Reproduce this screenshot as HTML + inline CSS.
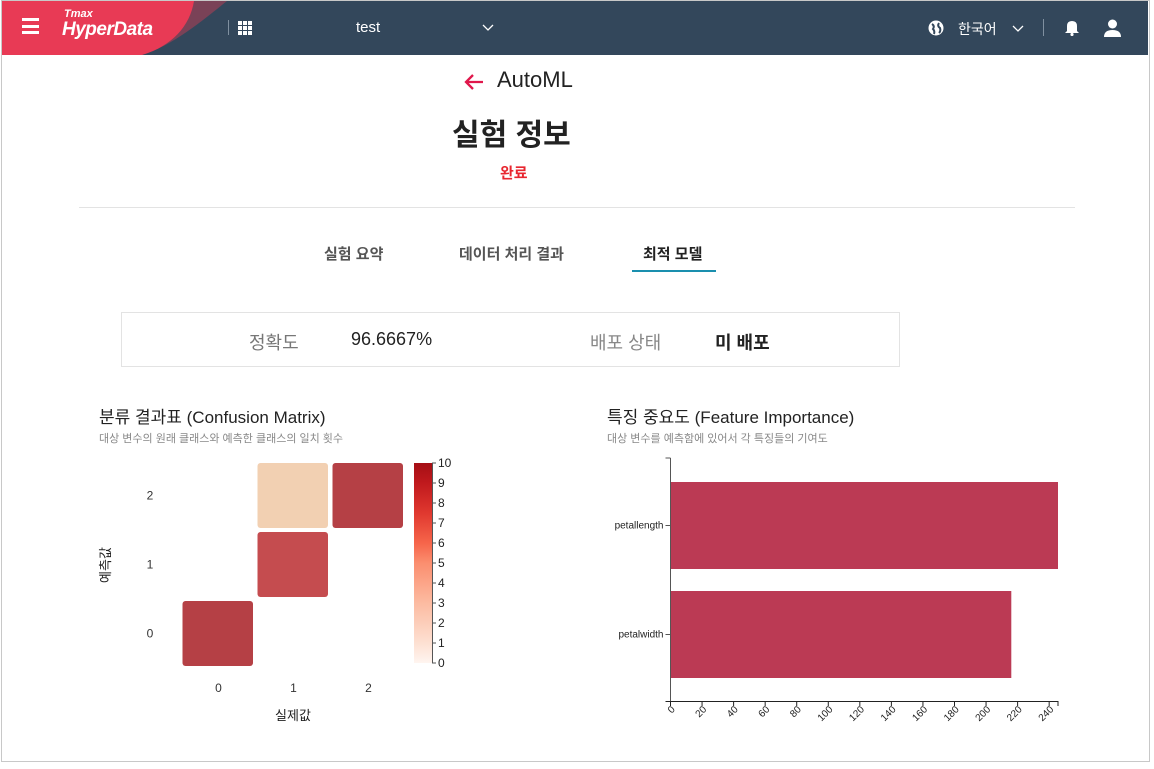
<!DOCTYPE html>
<html><head><meta charset="utf-8">
<style>
*{box-sizing:border-box;margin:0;padding:0}
body{width:1154px;height:769px;background:#fff;font-family:"Liberation Sans","Noto Sans CJK KR",sans-serif;position:relative;overflow:hidden}
.frame{position:absolute;left:1px;top:0;width:1149px;height:762px;border:1px solid #c8c8c8}
.abs{position:absolute}
.hdr{position:absolute;left:2px;top:1px;width:1146px;height:54px;background:#33475b;overflow:hidden}
.k{font-family:"Liberation Sans","Noto Sans CJK KR",sans-serif}
</style></head><body>
<div class="frame"></div>
<div class="hdr">
 <svg class="abs" style="left:0;top:0" width="240" height="54">
  <path d="M0 0 H225 C200 20 170 45 140 54 H0 Z" fill="#7a4257"/>
  <path d="M0 0 H192 C188 25 170 45 140 54 H0 Z" fill="#e83a55"/>
 </svg>
 <div class="abs" style="left:20px;top:17px;width:17px;height:16px">
  <div style="height:3px;background:#fff;margin-bottom:3.5px"></div><div style="height:3px;background:#fff;margin-bottom:3.5px"></div><div style="height:3px;background:#fff"></div></div>
 <div class="abs" style="left:60px;top:8px;color:#fff;font-weight:bold;font-style:italic;line-height:1"><div style="font-size:11px;margin-left:2px">Tmax</div><div style="font-size:19px;letter-spacing:-0.5px">HyperData</div></div>
 <div class="abs" style="left:226px;top:19px;width:1px;height:15px;background:#8090a0"></div>
 <div class="abs" style="left:236px;top:20px;width:14px;height:14px;display:grid;grid-template-columns:repeat(3,4px);gap:1px"><i style="background:#fff;height:4px"></i><i style="background:#fff;height:4px"></i><i style="background:#fff;height:4px"></i><i style="background:#fff;height:4px"></i><i style="background:#fff;height:4px"></i><i style="background:#fff;height:4px"></i><i style="background:#fff;height:4px"></i><i style="background:#fff;height:4px"></i><i style="background:#fff;height:4px"></i></div>
 <div class="abs" style="left:354px;top:18px;color:#fff;font-size:15px">test</div>
 <svg class="abs" style="left:480px;top:23px" width="12" height="8"><path d="M1 1 L6 6 L11 1" stroke="#fff" fill="none" stroke-width="1.3"/></svg>
 <svg class="abs" style="left:926px;top:19px" width="16" height="16"><circle cx="8" cy="8" r="7.5" fill="#fff"/><path d="M4 4 Q7 6 5 9 Q7 11 6 14 M11 3 Q9 6 12 8 Q13 11 11 13" stroke="#33475b" stroke-width="2" fill="none"/></svg>
 <div class="abs k" style="left:956px;top:18px;color:#fff;font-size:14px">한국어</div>
 <svg class="abs" style="left:1010px;top:24px" width="12" height="8"><path d="M1 1 L6 6 L11 1" stroke="#fff" fill="none" stroke-width="1.3"/></svg>
 <div class="abs" style="left:1041px;top:18px;width:1px;height:17px;background:#8090a0"></div>
 <svg class="abs" style="left:1062px;top:18px" width="16" height="17"><path d="M3 12 V7 Q3 2 8 2 Q13 2 13 7 V12 L15 14 H1 Z" fill="#fff"/><circle cx="8" cy="15.5" r="1.6" fill="#fff"/></svg>
 <svg class="abs" style="left:1101px;top:18px" width="19" height="18"><circle cx="9.5" cy="5" r="4.5" fill="#fff"/><path d="M1 18 Q1 11 9.5 11 Q18 11 18 18 Z" fill="#fff"/></svg>
</div>

<svg class="abs" style="left:463px;top:72px" width="22" height="20"><path d="M20 10 H3 M10 3 L3 10 L10 17" stroke="#e0184c" stroke-width="2.3" fill="none"/></svg>
<div class="abs" style="left:497px;top:67px;font-size:22px;color:#222">AutoML</div>
<div class="abs k" style="left:452px;top:110px;font-size:30px;font-weight:bold;color:#222">실험 정보</div>
<div class="abs k" style="left:500px;top:162px;font-size:15px;font-weight:bold;color:#e8262f">완료</div>
<div class="abs" style="left:79px;top:207px;width:996px;height:1px;background:#e3e3e3"></div>

<div class="abs k" style="left:324px;top:243px;font-size:15px;font-weight:bold;color:#555">실험 요약</div>
<div class="abs k" style="left:459px;top:243px;font-size:15px;font-weight:bold;color:#555">데이터 처리 결과</div>
<div class="abs k" style="left:643px;top:243px;font-size:15px;font-weight:bold;color:#222">최적 모델</div>
<div class="abs" style="left:632px;top:270px;width:84px;height:2px;background:#1a8fae"></div>

<div class="abs" style="left:121px;top:312px;width:779px;height:55px;border:1px solid #e3e3e3"></div>
<div class="abs k" style="left:249px;top:329px;font-size:18px;color:#777">정확도</div>
<div class="abs" style="left:351px;top:329px;font-size:18px;color:#222">96.6667%</div>
<div class="abs k" style="left:590px;top:329px;font-size:18px;color:#888">배포 상태</div>
<div class="abs k" style="left:715px;top:329px;font-size:18px;color:#222;font-weight:bold">미 배포</div>

<div class="abs k" style="left:99px;top:403px;font-size:17px;color:#222">분류 결과표 (Confusion Matrix)</div>
<div class="abs k" style="left:99px;top:430px;font-size:11px;color:#888">대상 변수의 원래 클래스와 예측한 클래스의 일치 횟수</div>
<div class="abs k" style="left:607px;top:403px;font-size:17px;color:#222">특징 중요도 (Feature Importance)</div>
<div class="abs k" style="left:607px;top:430px;font-size:11px;color:#888">대상 변수를 예측함에 있어서 각 특징들의 기여도</div>

<svg id="cm" class="abs" style="left:0;top:0" width="580" height="769">
 <defs><linearGradient id="cb" x1="0" y1="1" x2="0" y2="0">
  <stop offset="0" stop-color="#fff5f0"/><stop offset="0.1" stop-color="#fde0d2"/><stop offset="0.3" stop-color="#fcbba1"/><stop offset="0.5" stop-color="#fb8e6f"/><stop offset="0.6" stop-color="#f6654a"/><stop offset="0.75" stop-color="#e0382f"/><stop offset="0.9" stop-color="#c0191d"/><stop offset="1" stop-color="#a50f15"/></linearGradient></defs>
</svg>
<svg id="fi" class="abs" style="left:0;top:0" width="1154" height="769"></svg>

<script>
// Confusion matrix data
const cmLabels = ['0','1','2'];
const cmActual = [0, 1, 1, 2];
const cmPred   = [0, 1, 2, 2];
const cmValues = [10, 9, 1, 10];
const cbTicks = [0,1,2,3,4,5,6,7,8,9,10];
// Feature importance data
const fiFeatures = ['petallength','petalwidth'];
const fiValues = [245.6, 216];
const fiTicks = [0,20,40,60,80,100,120,140,160,180,200,220,240];

const NS='http://www.w3.org/2000/svg';
function mk(parent,tag,attrs,txt){const e=document.createElementNS(NS,tag);for(const k in attrs)e.setAttribute(k,attrs[k]);if(txt!==undefined)e.textContent=txt;parent.appendChild(e);return e;}

(function(){
 const svg=document.getElementById('cm');
 const x0=181, cw=75, yTop=461, ch=69, n=cmLabels.length;
 const xs=i=>x0+i*cw, ys=j=>yTop+(n-1-j)*ch;
 const stops=[[0,[255,255,255]],[1,[242,208,178]],[5,[232,110,90]],[9,[197,76,79]],[10,[181,64,69]]];
 function col(v){for(let i=1;i<stops.length;i++){if(v<=stops[i][0]){const a=stops[i-1],b=stops[i],t=(v-a[0])/(b[0]-a[0]);return 'rgb('+a[1].map((c,k)=>Math.round(c+(b[1][k]-c)*t)).join(',')+')';}}return 'rgb(181,64,69)';}
 cmValues.forEach((v,i)=>{
  const r=mk(svg,'rect',{x:xs(cmActual[i])+1.5,y:ys(cmPred[i])+2,width:cw-4.5,height:ch-4,rx:3,fill:col(v)});
  
  
 });
 cmLabels.forEach((l,i)=>{
  const t=mk(svg,'text',{x:xs(i)+cw/2,y:692,'font-size':12,'text-anchor':'middle',fill:'#333'},l);
  
  
  const u=mk(svg,'text',{x:150,y:ys(i)+ch/2+4,'font-size':12,'text-anchor':'middle',fill:'#333'},l);
  
  
 });
 const xt=mk(svg,'text',{x:293,y:720,'font-size':13,'text-anchor':'middle',fill:'#222'},'실제값');
 
 
 const yt=mk(svg,'text',{x:0,y:0,'font-size':13,'text-anchor':'middle',fill:'#222',transform:'translate(110,565) rotate(-90)'},'예측값');
 
 
 const cy0=663, cy1=463, cs=v=>cy0-(v/10)*(cy0-cy1);
 const cb=mk(svg,'rect',{x:414,y:cy1,width:18,height:cy0-cy1,fill:'url(#cb)'});
 
 
 mk(svg,'line',{x1:432.5,x2:432.5,y1:cy1,y2:cy0,stroke:'#555'});
 cbTicks.forEach(v=>{
  mk(svg,'line',{x1:432,x2:436,y1:cs(v),y2:cs(v),stroke:'#555'});
  const t=mk(svg,'text',{x:438,y:cs(v)+4,'font-size':12,fill:'#222'},String(v));
  
  
 });
})();

(function(){
 const svg=document.getElementById('fi');
 const ax=670.5, maxV=245.6, xEnd=1058, sx=v=>ax+(v/maxV)*(xEnd-ax);
 const yA=458, yB=701, bandTop=482, band=87, gap=22;
 mk(svg,'line',{x1:ax,x2:ax,y1:yA,y2:yB+1,stroke:'#555'});
 mk(svg,'line',{x1:ax-5,x2:ax,y1:yA,y2:yA,stroke:'#555'});
 mk(svg,'line',{x1:ax-5,x2:xEnd,y1:yB+0.5,y2:yB+0.5,stroke:'#222'});
 mk(svg,'line',{x1:xEnd,x2:xEnd,y1:yB,y2:yB+5,stroke:'#222'});
 fiFeatures.forEach((f,i)=>{
  const y=bandTop+i*(band+gap);
  const r=mk(svg,'rect',{x:ax+0.5,y:y,width:sx(fiValues[i])-ax-0.5,height:band,fill:'#bb3a54'});
  
  
  mk(svg,'line',{x1:ax-5,x2:ax,y1:y+band/2,y2:y+band/2,stroke:'#555'});
  const t=mk(svg,'text',{x:ax-7,y:y+band/2+3,'font-size':10,'text-anchor':'end',fill:'#222'},f);
  
  
 });
 fiTicks.forEach(v=>{
  const x=sx(v);
  mk(svg,'line',{x1:x,x2:x,y1:yB,y2:yB+5,stroke:'#222'});
  const t=mk(svg,'text',{x:0,y:0,'font-size':10,'text-anchor':'end',fill:'#222',transform:'translate('+(x+5)+','+(yB+9)+') rotate(-45)'},String(v));
  
  
 });
})();
</script>
</body></html>
